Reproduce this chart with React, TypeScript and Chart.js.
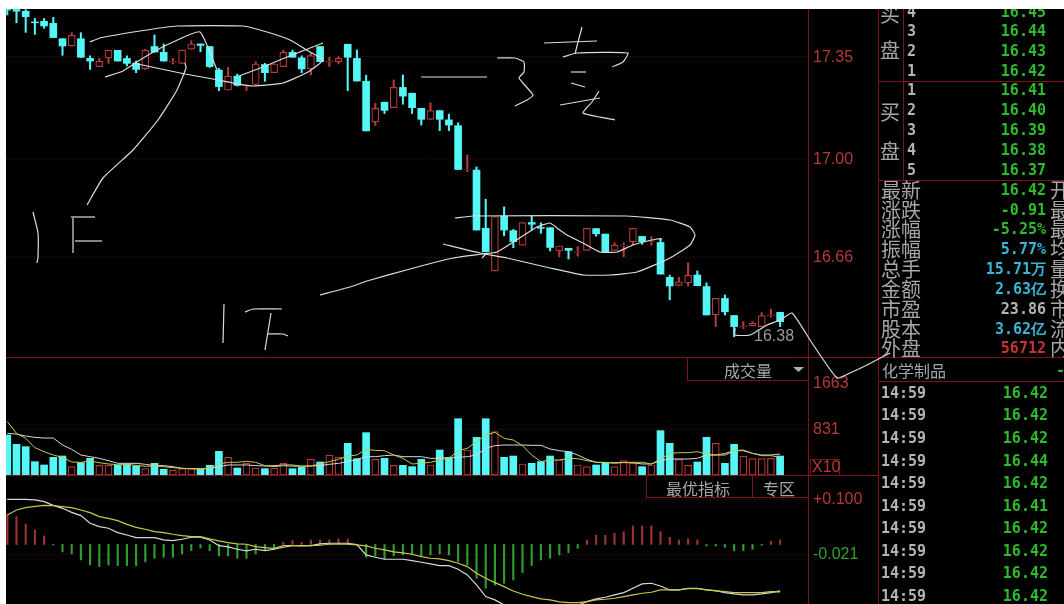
import React, { useEffect, useRef } from "react";
import { Chart, registerables } from "chart.js";

Chart.register(...registerables);

// ---- daily candles (price) ----
const opens = [17.514,17.514,17.508,17.471,17.473,17.466,17.413,17.388,17.413,17.345,17.317,17.347,17.373,17.345,17.328,17.31,17.386,17.366,17.333,17.328,17.377,17.395,17.386,17.305,17.236,17.284,17.25,17.255,17.324,17.296,17.317,17.366,17.347,17.309,17.386,17.333,17.334,17.394,17.345,17.266,17.126,17.194,17.175,17.245,17.225,17.173,17.135,17.165,17.133,17.113,16.96,16.96,16.759,16.612,16.801,16.751,16.701,16.779,16.762,16.761,16.681,16.69,16.676,16.683,16.758,16.739,16.683,16.699,16.712,16.731,16.714,16.71,16.59,16.562,16.571,16.598,16.558,16.46,16.517,16.458,16.42,16.422,16.42,16.458,16.469];
const highs = [17.514,17.514,17.514,17.483,17.483,17.487,17.413,17.434,17.434,17.354,17.345,17.373,17.373,17.354,17.336,17.377,17.426,17.395,17.345,17.374,17.406,17.395,17.386,17.311,17.314,17.291,17.252,17.334,17.328,17.326,17.374,17.374,17.354,17.363,17.386,17.349,17.351,17.394,17.374,17.287,17.19,17.194,17.271,17.288,17.225,17.173,17.192,17.165,17.153,17.123,17.012,16.971,16.859,16.799,16.833,16.755,16.779,16.801,16.778,16.761,16.698,16.69,16.696,16.759,16.758,16.739,16.709,16.709,16.759,16.731,16.73,16.724,16.598,16.59,16.64,16.612,16.571,16.517,16.529,16.458,16.437,16.437,16.468,16.48,16.469];
const lows = [17.495,17.468,17.435,17.428,17.449,17.417,17.356,17.388,17.349,17.307,17.317,17.328,17.336,17.319,17.296,17.307,17.367,17.336,17.326,17.328,17.377,17.368,17.314,17.234,17.236,17.25,17.234,17.255,17.266,17.296,17.317,17.349,17.296,17.288,17.334,17.317,17.326,17.234,17.267,17.095,17.114,17.155,17.175,17.187,17.155,17.115,17.135,17.096,17.096,16.962,16.954,16.753,16.678,16.612,16.733,16.692,16.701,16.753,16.742,16.681,16.661,16.653,16.663,16.683,16.732,16.678,16.683,16.661,16.701,16.704,16.701,16.601,16.512,16.562,16.56,16.561,16.46,16.42,16.46,16.385,16.413,16.422,16.42,16.452,16.42];
const closes = [17.512,17.508,17.489,17.468,17.457,17.417,17.388,17.425,17.349,17.336,17.335,17.373,17.336,17.328,17.307,17.373,17.367,17.336,17.336,17.374,17.395,17.39,17.317,17.248,17.284,17.252,17.253,17.326,17.296,17.326,17.366,17.349,17.309,17.355,17.334,17.336,17.345,17.349,17.267,17.095,17.173,17.166,17.245,17.215,17.175,17.135,17.165,17.135,17.115,16.962,16.962,16.753,16.678,16.799,16.753,16.713,16.779,16.773,16.759,16.693,16.698,16.683,16.678,16.759,16.74,16.678,16.701,16.701,16.759,16.713,16.716,16.601,16.56,16.574,16.597,16.561,16.46,16.517,16.471,16.42,16.422,16.431,16.458,16.46,16.437];

// ---- volume ----
const volumes = [722,554,512,241,181,319,343,151,223,301,175,175,175,199,163,114,211,102,90,114,114,102,175,427,319,126,211,126,114,126,211,114,138,283,235,361,319,572,295,765,283,301,175,175,151,283,181,452,301,1017,452,680,1017,783,319,343,199,211,241,343,271,421,181,151,181,223,151,259,211,151,181,801,572,283,175,235,680,572,211,554,343,295,295,301,343];
const volShort = [963,753,662,494,421,361,319,235,229,253,223,199,187,187,175,157,163,151,132,120,114,108,126,199,229,229,247,229,169,151,169,157,163,163,199,241,283,343,361,464,445,439,361,301,199,211,229,271,301,439,482,602,722,771,662,632,530,361,241,271,271,301,295,259,229,229,211,229,229,229,199,283,391,403,403,421,379,361,391,439,452,391,349,349,319];
const volLong = [753,740,704,680,668,668,542,464,361,331,301,259,211,211,211,193,169,169,151,120,114,114,114,151,181,181,181,169,163,169,181,181,157,163,169,193,211,241,283,331,331,349,361,331,331,331,301,301,319,319,331,361,482,530,542,542,542,536,536,470,439,421,361,283,229,223,223,223,223,199,199,259,289,289,289,301,361,361,361,439,439,391,361,361,379];

// ---- MACD ----
const macdHist = [0.0649,0.0612,0.0451,0.0319,0.0187,-0.0015,-0.0165,-0.0209,-0.0341,-0.0451,-0.0487,-0.0451,-0.0465,-0.0465,-0.0465,-0.0385,-0.0304,-0.0282,-0.0282,-0.0209,-0.0136,-0.0077,-0.0136,-0.0253,-0.0253,-0.0304,-0.0304,-0.0209,-0.0121,-0.0106,0.0048,0.0084,0.0048,0.0099,0.0099,0.0099,0.0121,0.0121,-0.002,-0.0282,-0.0253,-0.0326,-0.0253,-0.0231,-0.0231,-0.0253,-0.0231,-0.0209,-0.0231,-0.0377,-0.0451,-0.0744,-0.0964,-0.0891,-0.0854,-0.0781,-0.0619,-0.0465,-0.0341,-0.0304,-0.0231,-0.018,-0.0084,0.0099,0.0202,0.0202,0.0246,0.0282,0.0407,0.0407,0.0407,0.0282,0.0158,0.0099,0.0128,0.0099,-0.0033,-0.0033,-0.0062,-0.0136,-0.0136,-0.0106,-0.0018,0.007,0.0099];
const macdDif = [0.0993,0.0993,0.0993,0.0979,0.0942,0.0861,0.0795,0.0707,0.0634,0.0465,0.0392,0.0356,0.026,0.0209,0.015,0.015,0.015,0.0099,0.0084,0.0114,0.0158,0.0158,0.0099,-0.0026,-0.0055,-0.0106,-0.0143,-0.0106,-0.0136,-0.0106,-0.0062,-0.0026,-0.0026,-0.0026,0.0011,0.0026,0.0026,0.0026,-0.0004,-0.0231,-0.0282,-0.0326,-0.0326,-0.0326,-0.0355,-0.0392,-0.0429,-0.0465,-0.0465,-0.0546,-0.0671,-0.0891,-0.1147,-0.122,-0.133,-0.1477,-0.1587,-0.16,-0.158,-0.1514,-0.148,-0.142,-0.134,-0.1257,-0.1198,-0.1162,-0.1111,-0.1059,-0.0964,-0.0869,-0.0854,-0.0913,-0.1001,-0.1001,-0.0964,-0.0964,-0.1001,-0.1015,-0.1059,-0.1089,-0.1111,-0.1111,-0.1089,-0.1059,-0.1023];
const macdDea = [0.0649,0.0759,0.081,0.0839,0.0861,0.0854,0.0832,0.081,0.0759,0.07,0.0612,0.0575,0.0524,0.0443,0.0377,0.0334,0.0282,0.026,0.0224,0.0194,0.0172,0.0172,0.0121,0.0077,0.004,0.0011,0.0004,-0.0048,-0.007,-0.0084,-0.0026,-0.0026,-0.0033,-0.0026,-0.0018,0.0004,0.0004,0.0004,-0.0011,-0.0033,-0.0084,-0.0121,-0.0165,-0.0187,-0.0216,-0.0268,-0.0304,-0.0319,-0.0355,-0.0414,-0.0487,-0.0634,-0.0744,-0.0839,-0.0927,-0.1023,-0.1096,-0.1147,-0.1198,-0.122,-0.1264,-0.1279,-0.1279,-0.1257,-0.122,-0.1206,-0.1184,-0.1147,-0.1111,-0.1074,-0.1052,-0.1001,-0.1001,-0.1001,-0.0971,-0.0971,-0.1001,-0.1023,-0.1037,-0.1059,-0.1059,-0.1059,-0.1059,-0.1037,-0.1045];

// ---- axis ticks ----
const priceTicks = [17.35, 17.0, 16.66];
const volumeTicks = [1663, 831];
const macdTicks = [0.1, -0.021];

// ---- side panel ----
const askLevels = ["4", "3", "2", "1"];
const askPrices = ["16.45", "16.44", "16.43", "16.42"];
const bidLevels = ["1", "2", "3", "4", "5"];
const bidPrices = ["16.41", "16.40", "16.39", "16.38", "16.37"];
const quoteLabels = ["最新", "涨跌", "涨幅", "振幅", "总手", "金额", "市盈", "股本", "外盘"];
const quoteValues = ["16.42", "-0.91", "-5.25%", "5.77%", "15.71万", "2.63亿", "23.86", "3.62亿", "56712"];
const quoteColors = ["#2cbc2c", "#2cbc2c", "#2cbc2c", "#38b6d4", "#38b6d4", "#38b6d4", "#b4b4b4", "#38b6d4", "#c43434"];
const quoteSide = ["开", "最", "最", "均", "量", "换", "市", "流", "内"];
const tradeTimes = ["14:59", "14:59", "14:59", "14:59", "14:59", "14:59", "14:59", "14:59", "14:59", "14:59"];
const tradePrices = ["16.42", "16.42", "16.42", "16.44", "16.42", "16.41", "16.42", "16.42", "16.42", "16.42"];

// ---- hand-drawn annotation strokes (screen ink units) ----
const inkStrokes: number[][][] = [
  [[90,42],[100,38],[140,31],[177,26],[243,26],[267,32],[290,40],[310,52],[323,60],[308,72],[283,83],[253,86],[233,83],[213,79],[185,74],[147,66],[133,63]],
  [[105,77],[123,71],[140,60],[157,50],[173,42],[200,32],[217,70]],
  [[239,76],[263,67],[287,57],[323,43]],
  [[185,63],[186,68],[177,90],[158,120],[133,150],[103,178],[87,205]],
  [[33,212],[38,233],[38,257],[37,263]],
  [[71,217],[95,217]],
  [[73,218],[73,253]],
  [[75,241],[102,241]],
  [[224,304],[223,343]],
  [[245,312],[253,309],[282,309]],
  [[271,313],[265,350]],
  [[267,334],[283,334],[288,336]],
  [[320,295],[350,287],[367,281],[410,269],[453,258],[483,254],[497,252],[537,227],[550,223],[557,228],[567,235],[583,243],[600,252],[617,252],[633,245],[657,239],[662,239]],
  [[455,218],[473,216],[627,216],[670,220],[690,227],[695,235],[690,245],[670,258],[637,272],[610,275],[583,275],[550,268],[507,258],[480,253],[443,244]],
  [[482,258],[487,253]],
  [[421,77],[487,77]],
  [[497,58],[515,58],[524,62],[524,72],[519,78],[533,95],[527,100],[515,106]],
  [[544,43],[570,42],[597,41]],
  [[582,27],[578,42],[575,54]],
  [[563,57],[577,53],[628,53],[623,62],[612,67]],
  [[571,72],[586,72]],
  [[571,83],[585,87]],
  [[560,105],[600,98]],
  [[599,91],[592,102],[583,113],[615,120]],
  [[890,353],[867,365],[850,373],[837,378],[812,343],[792,313],[780,320],[767,325],[750,335],[735,335],[735,328]],
];

// ---- colours ----
const CYAN = "#54f6f6";
const RED = "#b83a3a";
const FRAME = "#7d1414";
const GRID = "#6a1212";
const TICK_RED = "#b8383a";
const TICK_GREEN = "#2f9f2f";
const GREY = "#a6a6a6";

const pts = (arr: number[]) => arr.map((y, x) => ({ x, y }));
const isUp = (i: number) => closes[i] >= opens[i];

const ORIGIN_X = 6;
const ORIGIN_Y = 9;

const framePlugin = {
  id: "frame",
  beforeDatasetsDraw(chart: any) {
    const c = chart.ctx;
    const seg = (x1: number, y1: number, x2: number, y2: number) => {
      c.moveTo(x1 - ORIGIN_X, y1 - ORIGIN_Y);
      c.lineTo(x2 - ORIGIN_X, y2 - ORIGIN_Y);
    };
    c.save();
    c.strokeStyle = FRAME;
    c.lineWidth = 1;
    c.beginPath();
    seg(6, 357.5, 1064, 357.5);
    seg(6, 475.5, 878, 475.5);
    seg(878, 381.5, 1064, 381.5);
    seg(878, 81.5, 1064, 81.5);
    seg(878, 180.5, 1064, 180.5);
    seg(878.5, 9, 878.5, 604);
    seg(903.5, 9, 903.5, 180);
    seg(687.5, 357, 687.5, 380);
    seg(687, 380.5, 808, 380.5);
    seg(646.5, 476, 646.5, 497);
    seg(646, 497.5, 808, 497.5);
    seg(752.5, 476, 752.5, 497);
    seg(810.5, 459.5, 839.5, 459.5);
    seg(839.5, 459.5, 839.5, 475);
    seg(810.5, 459.5, 810.5, 475);
    c.stroke();
    c.fillStyle = "#b0b0b0";
    c.beginPath();
    c.moveTo(793 - ORIGIN_X, 367 - ORIGIN_Y);
    c.lineTo(804 - ORIGIN_X, 367 - ORIGIN_Y);
    c.lineTo(798.5 - ORIGIN_X, 372 - ORIGIN_Y);
    c.closePath();
    c.fill();
    c.restore();
  },
};

type TProps = { x?: number; r?: number; y: number; font: string; size: number; color: string; weight?: number; children: React.ReactNode };
function T({ x, r, y, font, size, color, weight, children }: TProps) {
  const style: React.CSSProperties = {
    position: "absolute",
    top: y - ORIGIN_Y,
    transform: "translateY(-50%)",
    fontFamily: font,
    fontSize: size,
    color,
    fontWeight: weight ?? 400,
    whiteSpace: "nowrap",
    lineHeight: 1,
  };
  if (r !== undefined) style.right = 1058 - (r - ORIGIN_X);
  else style.left = (x as number) - ORIGIN_X;
  return <span style={style}>{children}</span>;
}

const MONO = '"DejaVu Sans Mono", monospace';
const CJK = '"Noto Sans CJK SC", sans-serif';
const SANS = '"Liberation Sans", sans-serif';
const quoteRowY = [190, 210, 229, 249, 269, 289, 309, 329, 348];
const askRowY = [12, 31, 51, 71];
const bidRowY = [90, 110, 130, 150, 170];
const tradeRowY = [393, 415, 438, 461, 483, 506, 528, 551, 573, 596];

export default function App() {
  const ref = useRef<HTMLCanvasElement>(null);
  useEffect(() => {
    const fixTicks = (list: number[]) => (s: any) => {
      s.ticks = list.map((value) => ({ value }));
    };
    const fixFit = (s: any) => {
      s.width = 70;
      s.paddingTop = 0;
      s.paddingBottom = 0;
      s.paddingLeft = 0;
      s.paddingRight = 0;
    };
    const yAxis = (min: number, max: number, weight: number, list: number[], fmt: (v: number) => string, hideGrid?: number) => ({
      type: "linear",
      position: "right",
      stack: "panels",
      stackWeight: weight,
      min,
      max,
      afterBuildTicks: fixTicks(list),
      afterFit: fixFit,
      border: { display: true, color: FRAME, dash: [1, 3] },
      grid: {
        drawTicks: false,
        color: (ctx: any) => (ctx.tick && ctx.tick.value === hideGrid ? "transparent" : GRID),
      },
      ticks: {
        autoSkip: false,
        padding: 5,
        labelOffset: 1,
        font: { family: "Liberation Sans", size: 16 },
        color: (ctx: any) => (ctx.tick && ctx.tick.value < 0 ? TICK_GREEN : TICK_RED),
        callback: (v: number) => fmt(v),
      },
    });

    const candleAt = closes.map((_, i) => i);
    const datasets: any[] = [
      {
        type: "bar",
        yAxisID: "yPrice",
        order: 6,
        grouped: false,
        barThickness: 1.4,
        data: candleAt.map((i) => ({ x: i, y: [lows[i], highs[i]] })),
        backgroundColor: candleAt.map((i) => (isUp(i) ? RED : CYAN)),
      },
      {
        type: "bar",
        yAxisID: "yPrice",
        order: 5,
        grouped: false,
        barThickness: 7,
        borderSkipped: false,
        data: candleAt.map((i) => ({ x: i, y: [opens[i], closes[i]] })),
        backgroundColor: candleAt.map((i) => (isUp(i) ? "#000000" : CYAN)),
        borderColor: candleAt.map((i) => (isUp(i) ? RED : CYAN)),
        borderWidth: candleAt.map((i) => (isUp(i) ? 1.2 : 0)),
      },
      {
        type: "bar",
        yAxisID: "yVolume",
        order: 5,
        grouped: false,
        barThickness: 7,
        borderSkipped: false,
        data: pts(volumes),
        backgroundColor: candleAt.map((i) => (isUp(i) ? "#000000" : CYAN)),
        borderColor: candleAt.map((i) => (isUp(i) ? RED : CYAN)),
        borderWidth: candleAt.map((i) => (isUp(i) ? 1.2 : 0)),
      },
      {
        type: "line",
        yAxisID: "yVolume",
        order: 3,
        data: pts(volLong),
        borderColor: "#d8d8d8",
        borderWidth: 1,
        pointRadius: 0,
      },
      {
        type: "line",
        yAxisID: "yVolume",
        order: 2,
        data: pts(volShort),
        borderColor: "#c8c84a",
        borderWidth: 1,
        pointRadius: 0,
      },
      {
        type: "bar",
        yAxisID: "yMacd",
        order: 5,
        grouped: false,
        barThickness: 1.5,
        data: pts(macdHist),
        backgroundColor: macdHist.map((v) => (v >= 0 ? "#9c3232" : "#2f9c2f")),
      },
      {
        type: "line",
        yAxisID: "yMacd",
        order: 3,
        data: pts(macdDif),
        borderColor: "#d8d8d8",
        borderWidth: 1.2,
        pointRadius: 0,
      },
      {
        type: "line",
        yAxisID: "yMacd",
        order: 2,
        data: pts(macdDea),
        borderColor: "#c8c84a",
        borderWidth: 1.2,
        pointRadius: 0,
      },
      ...inkStrokes.map((stroke) => ({
        type: "line",
        xAxisID: "inkX",
        yAxisID: "inkY",
        order: 0,
        clip: false,
        tension: 0.15,
        data: stroke.map(([x, y]) => ({ x, y })),
        borderColor: "#dcdcdc",
        borderWidth: 1.2,
        pointRadius: 0,
      })),
    ];

    const chart = new Chart(ref.current as HTMLCanvasElement, {
      type: "bar",
      data: { datasets },
      plugins: [framePlugin],
      options: {
        animation: false,
        responsive: false,
        devicePixelRatio: 1,
        layout: { autoPadding: false, padding: { left: 0, top: 0, bottom: 0, right: 186 } },
        plugins: { legend: { display: false }, tooltip: { enabled: false }, title: { display: false } },
        datasets: { bar: { categoryPercentage: 1, barPercentage: 1 } },
        scales: {
          x: { type: "linear", display: false, offset: false, min: -0.14, max: 87.03, grid: { display: false } },
          inkX: { type: "linear", display: false, axis: "x", position: "bottom", offset: false, min: 6, max: 808 },
          inkY: { type: "linear", display: false, position: "left", offset: false, min: 9, max: 604, reverse: true },
          yPrice: yAxis(16.315, 17.5156, 348, priceTicks, (v) => v.toFixed(2)),
          yVolume: yAxis(0, 2132, 118, volumeTicks, (v) => String(v), 1663),
          yMacd: yAxis(-0.131, 0.1528, 129, macdTicks, (v) => (v > 0 ? "+" : "") + v.toFixed(3)),
        },
      } as any,
    } as any);
    return () => chart.destroy();
  }, []);

  return (
    <div
      style={{
        position: "absolute",
        left: ORIGIN_X,
        top: ORIGIN_Y,
        width: 1058,
        height: 595,
        background: "#000",
        overflow: "hidden",
      }}
    >
      <canvas ref={ref} width={1058} height={595} style={{ display: "block", width: 1058, height: 595 }} />

      <T x={754} y={336} font={SANS} size={16} color="#9a9a9a">16.38</T>
      <T x={724} y={370} font={CJK} size={16} color={GREY}>成交量</T>
      <T x={812} y={467} font={SANS} size={16} color={TICK_RED}>X10</T>
      <T x={666} y={488} font={CJK} size={16} color={GREY}>最优指标</T>
      <T x={763} y={488} font={CJK} size={16} color={GREY}>专区</T>

      <T x={880} y={14} font={CJK} size={20} color={GREY}>买</T>
      <T x={880} y={50} font={CJK} size={20} color={GREY}>盘</T>
      <T x={880} y={112} font={CJK} size={20} color={GREY}>买</T>
      <T x={880} y={151} font={CJK} size={20} color={GREY}>盘</T>
      {askLevels.map((t, i) => (
        <T key={"al" + i} x={907} y={askRowY[i]} font={MONO} size={15} weight={700} color="#b4b4b4">{t}</T>
      ))}
      {askPrices.map((t, i) => (
        <T key={"ap" + i} r={1046} y={askRowY[i]} font={MONO} size={15} weight={700} color="#2cbc2c">{t}</T>
      ))}
      {bidLevels.map((t, i) => (
        <T key={"bl" + i} x={907} y={bidRowY[i]} font={MONO} size={15} weight={700} color="#b4b4b4">{t}</T>
      ))}
      {bidPrices.map((t, i) => (
        <T key={"bp" + i} r={1046} y={bidRowY[i]} font={MONO} size={15} weight={700} color="#2cbc2c">{t}</T>
      ))}
      {quoteLabels.map((t, i) => (
        <T key={"ql" + i} x={881} y={quoteRowY[i]} font={CJK} size={20} color={GREY}>{t}</T>
      ))}
      {quoteValues.map((t, i) => (
        <T key={"qv" + i} r={1046} y={quoteRowY[i]} font={MONO} size={15} weight={700} color={quoteColors[i]}>{t}</T>
      ))}
      {quoteSide.map((t, i) => (
        <T key={"qs" + i} x={1050} y={quoteRowY[i]} font={CJK} size={20} color={GREY}>{t}</T>
      ))}
      <T x={882} y={370} font={CJK} size={16} color={GREY}>化学制品</T>
      <T x={1056} y={370} font={MONO} size={15} weight={700} color="#2cbc2c">-2</T>
      {tradeTimes.map((t, i) => (
        <T key={"tt" + i} x={881} y={tradeRowY[i]} font={MONO} size={15} weight={700} color="#b4b4b4">{t}</T>
      ))}
      {tradePrices.map((t, i) => (
        <T key={"tp" + i} r={1048} y={tradeRowY[i]} font={MONO} size={15} weight={700} color="#2cbc2c">{t}</T>
      ))}
    </div>
  );
}
